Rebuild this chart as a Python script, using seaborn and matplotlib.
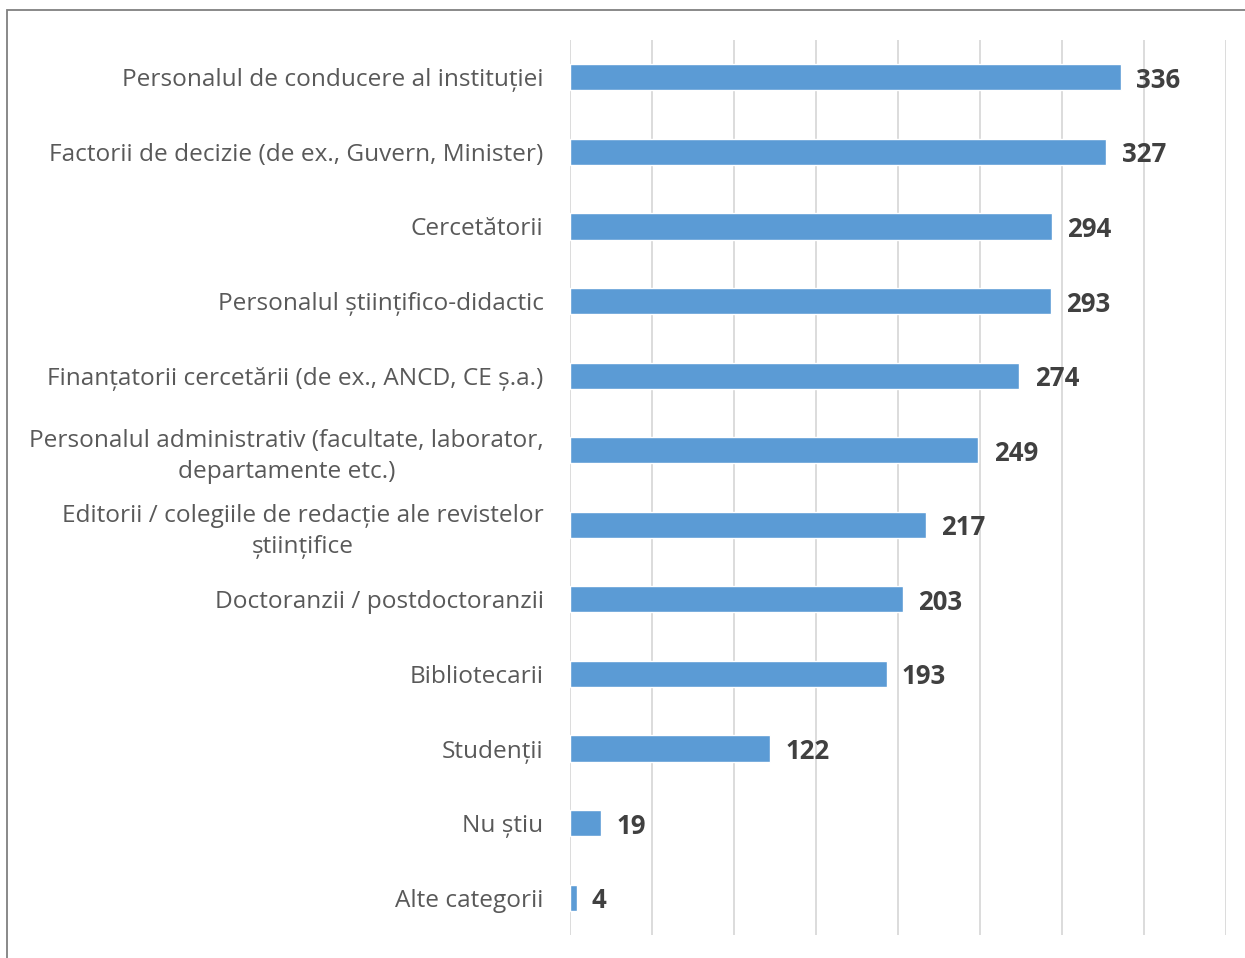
import matplotlib
matplotlib.use("Agg")
import matplotlib.pyplot as plt
import seaborn as sns
import pandas as pd
from matplotlib.patches import Rectangle

categories = [
    "Personalul de conducere al instituției",
    "Factorii de decizie (de ex., Guvern, Minister)",
    "Cercetătorii",
    "Personalul științifico-didactic",
    "Finanțatorii cercetării (de ex., ANCD, CE ș.a.)",
    "Personalul administrativ (facultate, laborator,\ndepartamente etc.)",
    "Editorii / colegiile de redacție ale revistelor\nștiințifice",
    "Doctoranzii / postdoctoranzii",
    "Bibliotecarii",
    "Studenții",
    "Nu știu",
    "Alte categorii",
]
values = [336, 327, 294, 293, 274, 249, 217, 203, 193, 122, 19, 4]

df = pd.DataFrame({"category": categories, "value": values})

sns.set_theme(style="white")
plt.rcParams["font.family"] = ["Open Sans", "DejaVu Sans"]

fig = plt.figure(figsize=(12.45, 9.58), dpi=100)
ax = fig.add_axes([570 / 1245, 1 - 935 / 958, (1226 - 570) / 1245, (935 - 40) / 958])

sns.barplot(data=df, x="value", y="category", orient="h", color="#5B9BD5",
            width=0.35, saturation=1, ax=ax)

ax.set_xlim(0, 400)
ax.set_xticks(range(0, 401, 50))
ax.xaxis.grid(True, color="#D9D9D9", linewidth=1.3)
ax.set_axisbelow(True)
ax.tick_params(axis="x", labelbottom=False, length=0)
ax.tick_params(axis="y", length=0, pad=19, labelsize=17.6, labelcolor="#595959")
for lbl in ax.get_yticklabels():
    lbl.set_multialignment("center")
    lbl.set_linespacing(1.4)
ax.set_xlabel("")
ax.set_ylabel("")
for s in ax.spines.values():
    s.set_visible(False)

texts = ax.bar_label(ax.containers[0], labels=[str(v) for v in values], padding=11,
                     fontsize=18.5, fontweight="bold", color="#404040")
for t in texts:
    t.set_va("center_baseline")

# outer border (cropped at right/bottom)
fig.patches.append(Rectangle((7 / 1245, -0.1), 1.2, 1 - 10 / 958 + 0.1,
                             transform=fig.transFigure, fill=False,
                             edgecolor="#808080", linewidth=1.3))

fig.savefig("out.png", dpi=100)
